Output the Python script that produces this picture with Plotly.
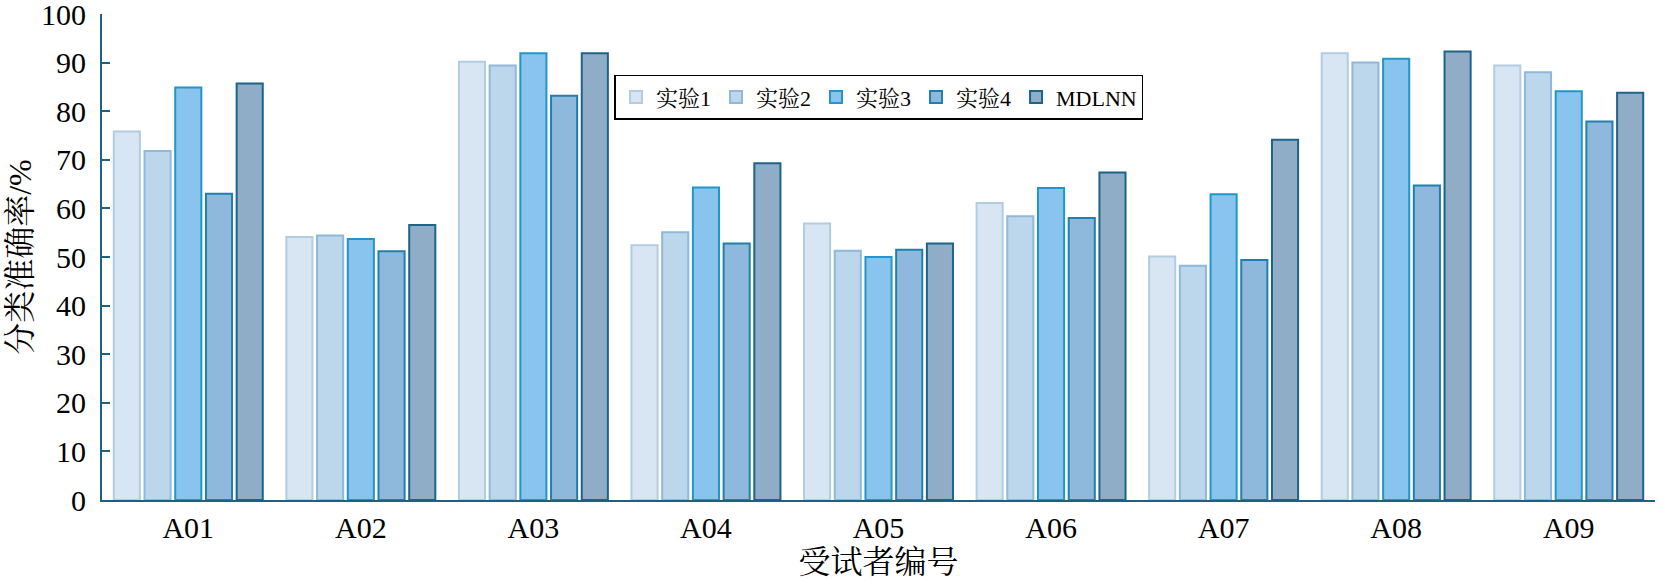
import plotly.graph_objects as go

categories = ["A01", "A02", "A03", "A04", "A05", "A06", "A07", "A08", "A09"]
exp1 = [75.8, 54.1, 90.2, 52.4, 56.9, 61.1, 50.1, 91.9, 89.4]
exp2 = [71.8, 54.4, 89.4, 55.1, 51.3, 58.4, 48.2, 90.0, 88.0]
exp3 = [84.9, 53.7, 91.9, 64.3, 50.0, 64.2, 62.9, 90.8, 84.1]
exp4 = [63.0, 51.2, 83.2, 52.8, 51.5, 58.0, 49.4, 64.7, 77.9]
mdlnn = [85.7, 56.6, 91.9, 69.3, 52.8, 67.4, 74.1, 92.3, 83.8]
series_names = ["实验1", "实验2", "实验3", "实验4", "MDLNN"]
y_ticks = [0, 10, 20, 30, 40, 50, 60, 70, 80, 90, 100]

fills = ["#d7e6f2", "#bcd6ec", "#88c4ee", "#8fb9dc", "#8fadc7"]
lines = ["#b2cce2", "#8fb8d9", "#2196c9", "#1f80ab", "#1d6488"]

FONT = "Liberation Serif, Noto Serif CJK SC, Noto Sans CJK SC, serif"

fig = go.Figure()
for name, vals, fc, lc in zip(series_names, [exp1, exp2, exp3, exp4, mdlnn], fills, lines):
    fig.add_trace(go.Bar(
        x=categories, y=vals, name=name,
        marker=dict(color=fc, line=dict(color=lc, width=2)),
    ))

axis_color = "#1d6283"
fig.update_layout(
    width=1659, height=580,
    margin=dict(l=102, r=4, t=14, b=80),
    paper_bgcolor="white", plot_bgcolor="white",
    barmode="group", bargap=0.11, bargroupgap=0.15,
    font=dict(family=FONT, color="black", size=31),
    legend=dict(
        orientation="h", x=0.33, y=0.875, xanchor="left", yanchor="top",
        bordercolor="black", borderwidth=1.5, bgcolor="white",
        font=dict(size=22, family=FONT, color="black"),
        itemwidth=30, tracegroupgap=0,
    ),
    xaxis=dict(
        range=[-0.5, 8.5], showline=True, linecolor=axis_color, linewidth=2,
        ticks="", ticklen=0, showgrid=False, zeroline=False, automargin=False,
        tickfont=dict(size=30, family=FONT, color="black"),
        title=dict(text="受试者编号", font=dict(size=32, family=FONT, color="black"), standoff=12),
    ),
    yaxis=dict(
        range=[0, 100], tickvals=y_ticks, showline=True, linecolor=axis_color, linewidth=2,
        ticks="inside", ticklen=8, tickwidth=2, tickcolor=axis_color,
        showgrid=False, zeroline=False, ticklabeloverflow="allow", automargin=False,
        tickfont=dict(size=30, family=FONT, color="black"),
        ticklabelstandoff=8,
        title=dict(text="分类准确率/%", font=dict(size=32, family=FONT, color="black"), standoff=0),
    ),
)

fig.write_html("out.html", config={"displayModeBar": False},
               post_script="document.body.style.margin='0';")
